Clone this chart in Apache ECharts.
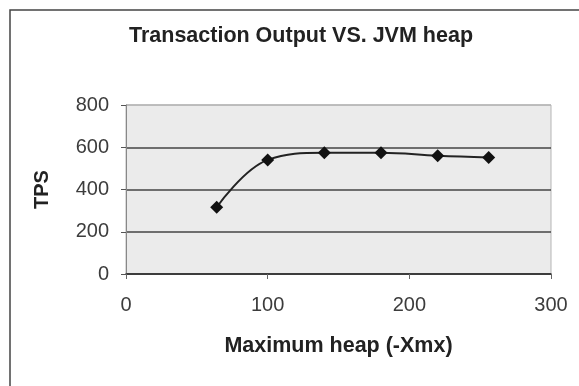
<!DOCTYPE html>
<html>
<head>
<meta charset="utf-8">
<script src="https://cdn.jsdelivr.net/npm/echarts@6/dist/echarts.min.js"></script>
<style>
html,body{margin:0;padding:0;background:#fff;}
#chart{width:579px;height:386px;}
</style>
</head>
<body>
<div id="chart"></div>
<script>
const titleText = 'Transaction Output VS. JVM heap';
const xAxisName = 'Maximum heap (-Xmx)';
const yAxisName = 'TPS';
const heapValues = [64, 100, 140, 180, 220, 256];
const tpsValues = [316, 540, 574, 574, 560, 552];

const chart = echarts.init(document.getElementById('chart'), null, {renderer: 'canvas'});
const font = '"Liberation Sans", Arial, sans-serif';
const option = {
  backgroundColor: '#ffffff',
  animation: false,
  graphic: [{
    type: 'rect',
    shape: {x: 10, y: 10, width: 620, height: 420},
    style: {fill: 'none', stroke: '#444', lineWidth: 1.5},
    z: 100
  }, {
    type: 'text',
    x: 301,
    y: 36,
    style: {
      text: titleText,
      align: 'center',
      verticalAlign: 'middle',
      font: 'bold 21.5px "Liberation Sans", Arial, sans-serif',
      fill: '#222'
    },
    z: 100
  }],
  grid: {
    left: 126, right: 28, top: 105, bottom: 112,
    show: true,
    backgroundColor: '#ebebeb',
    borderColor: '#b5b5b5',
    borderWidth: 1
  },
  xAxis: {
    type: 'value',
    min: 0, max: 300, interval: 100,
    name: xAxisName,
    nameLocation: 'middle',
    nameGap: 61,
    nameTextStyle: {fontFamily: font, fontSize: 21.5, fontWeight: 'bold', color: '#222'},
    axisLine: {show: true, lineStyle: {color: '#333', width: 1.5}},
    axisTick: {show: true, length: 5, lineStyle: {color: '#666'}},
    axisLabel: {fontFamily: font, fontSize: 20, color: '#3c3c3c', margin: 21},
    splitLine: {show: false}
  },
  yAxis: {
    type: 'value',
    min: 0, max: 800, interval: 200,
    name: yAxisName,
    nameLocation: 'middle',
    nameGap: 74,
    nameRotate: 90,
    nameTextStyle: {fontFamily: font, fontSize: 20, fontWeight: 'bold', color: '#222'},
    axisLine: {show: true, lineStyle: {color: '#888', width: 1}},
    axisTick: {show: true, length: 5, lineStyle: {color: '#555'}},
    axisLabel: {fontFamily: font, fontSize: 20, color: '#3c3c3c', margin: 17},
    splitLine: {show: true, lineStyle: {color: ['#333', '#444', '#444', '#444', '#b5b5b5'], width: 1.5}}
  },
  series: [{
    type: 'line',
    data: heapValues.map((x, i) => [x, tpsValues[i]]),
    smooth: 0.4,
    symbol: 'diamond',
    symbolSize: 13,
    itemStyle: {color: '#111'},
    lineStyle: {color: '#222', width: 2}
  }]
};
chart.setOption(option);
</script>
</body>
</html>
